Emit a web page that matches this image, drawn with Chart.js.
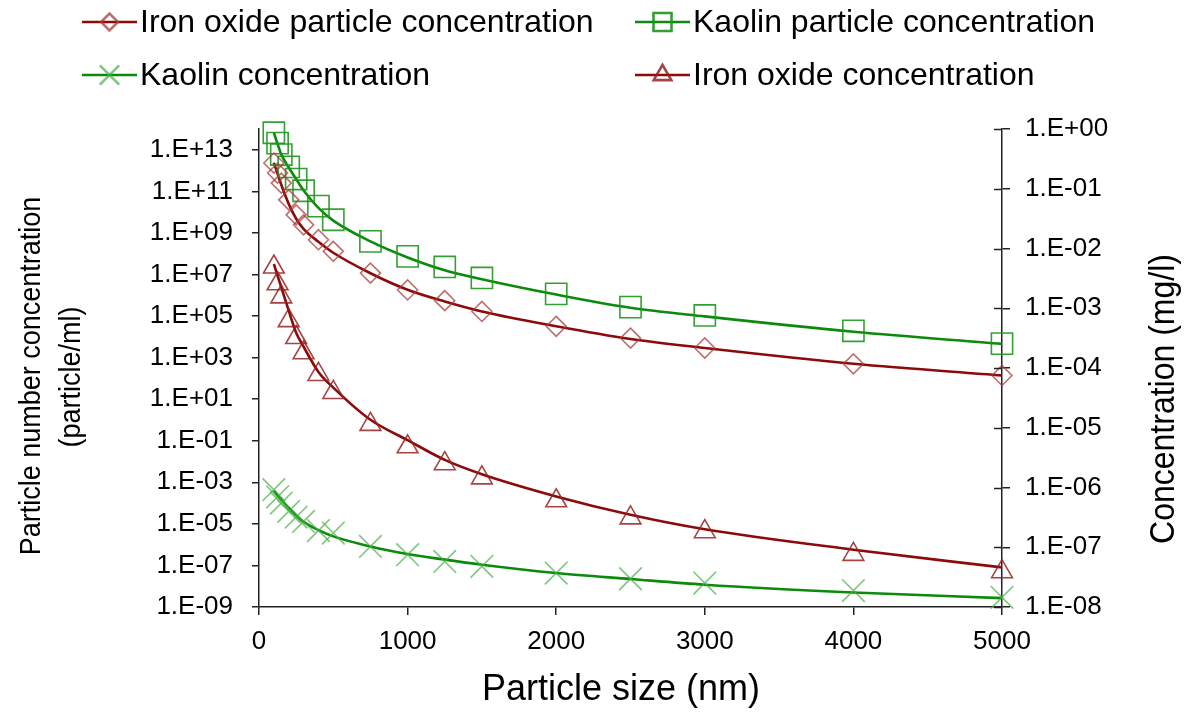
<!DOCTYPE html>
<html>
<head>
<meta charset="utf-8">
<script src="https://cdn.jsdelivr.net/npm/chart.js@4.4.1/dist/chart.umd.min.js"></script>
<style>
  html, body { margin: 0; padding: 0; background: #fff; }
  #wrap { width: 1190px; height: 715px; position: relative; }
</style>
</head>
<body>
<div id="wrap"><canvas id="chart"></canvas></div>
<script>
// particle size (nm)
const sizesNm = [100, 125, 150, 200, 250, 300, 400, 500, 750, 1000, 1250, 1500, 2000, 2500, 3000, 4000, 5000];

// particle/ml  (left axis) - markers and fitted curve
const ironParticleMarkers = [2.3e12, 7.6e11, 2.5e11, 3.9e10, 7.4e9, 2.45e9, 4.7e8, 1.3e8, 1.17e7, 1.8e6, 5.5e5, 1.66e5, 3.2e4, 8.7e3, 2.9e3, 500, 138];
const ironParticleCurve   = [2.37e12, 7.0e11, 2.07e11, 2.5e10, 4.8e9, 1.58e9, 3.75e8, 1.11e8, 1.15e7, 1.84e6, 5.0e5, 1.66e5, 3.2e4, 7.8e3, 2.9e3, 507, 139];
const kaolinParticleMarkers = [6.6e13, 2.1e13, 5.9e12, 1.5e12, 3.9e11, 1.07e11, 1.95e10, 4.3e9, 3.9e8, 7.4e7, 2.3e7, 6.8e6, 1.17e6, 2.7e5, 1.07e5, 1.95e4, 4.7e3];
const kaolinParticleCurve   = [6.6e13, 1.9e13, 6.0e12, 1.4e12, 3.9e11, 1.1e11, 1.6e10, 3.9e9, 3.9e8, 6.6e7, 1.6e7, 5.9e6, 1.08e6, 2.5e5, 9.6e4, 1.75e4, 4.6e3];

// mg/l (right axis) - markers and fitted curve
const kaolinConcMarkers = [9.2e-7, 7.0e-7, 5.5e-7, 4.0e-7, 3.2e-7, 2.7e-7, 1.9e-7, 1.73e-7, 1.03e-7, 7.5e-8, 5.8e-8, 4.8e-8, 3.7e-8, 2.97e-8, 2.52e-8, 1.88e-8, 1.45e-8];
const kaolinConcCurve   = [8.9e-7, 7.3e-7, 6.2e-7, 4.6e-7, 3.4e-7, 2.67e-7, 1.93e-7, 1.52e-7, 1.03e-7, 7.7e-8, 6.2e-8, 5.1e-8, 3.7e-8, 2.94e-8, 2.36e-8, 1.75e-8, 1.41e-8];
const ironConcMarkers = [4.9e-3, 2.57e-3, 1.55e-3, 6.2e-4, 3.24e-4, 1.8e-4, 7.8e-5, 3.9e-5, 1.14e-5, 4.8e-6, 2.5e-6, 1.45e-6, 6.0e-7, 3.1e-7, 1.82e-7, 7.6e-8, 3.9e-8];
const ironConcCurve   = [5.5e-3, 3.5e-3, 2.24e-3, 9.1e-4, 3.9e-4, 2.27e-4, 8.6e-5, 4.7e-5, 1.36e-5, 6.2e-6, 2.9e-6, 1.67e-6, 7.1e-7, 3.5e-7, 2.0e-7, 9.1e-8, 4.6e-8];

const xTickLabels = ['0', '1000', '2000', '3000', '4000', '5000'];
const leftTickLabels = ['1.E-09', '1.E-07', '1.E-05', '1.E-03', '1.E-01', '1.E+01', '1.E+03', '1.E+05', '1.E+07', '1.E+09', '1.E+11', '1.E+13'];
const rightTickLabels = ['1.E-08', '1.E-07', '1.E-06', '1.E-05', '1.E-04', '1.E-03', '1.E-02', '1.E-01', '1.E+00'];

const seriesNames = ['Iron oxide particle concentration', 'Kaolin particle concentration', 'Kaolin concentration', 'Iron oxide concentration'];

const FONT = '"Liberation Sans", Arial, sans-serif';
const RED = '#8c0a0a';
const GREEN = '#0b8a0b';

function pts(vals) {
    return sizesNm.map((x, i) => ({ x: x, y: vals[i] }));
}

function fmtExp(v) {
    const e = Math.round(Math.log10(v));
    return '1.E' + (e < 0 ? '-' : '+') + String(Math.abs(e)).padStart(2, '0');
}

// marker styles, reused by the legend
const markerStyles = [
    { pointStyle: 'rectRot', radius: 10, color: 'rgba(170,60,60,0.75)' },
    { pointStyle: 'rect', radius: 15, color: 'rgba(30,150,30,0.9)' },
    { pointStyle: 'crossRot', radius: 16, color: 'rgba(70,175,70,0.7)' },
    { pointStyle: 'triangle', radius: 12, color: 'rgba(150,35,35,0.85)' }
];
const lineColors = [RED, GREEN, GREEN, RED];

function markerSet(vals, idx, axis) {
    const m = markerStyles[idx];
    return {
        label: seriesNames[idx],
        data: pts(vals),
        yAxisID: axis,
        showLine: false,
        pointStyle: m.pointStyle,
        pointRadius: m.radius,
        pointBorderColor: m.color,
        pointBackgroundColor: 'rgba(0,0,0,0)',
        pointBorderWidth: 1.6,
        clip: false
    };
}

function curveSet(vals, idx, axis) {
    return {
        label: seriesNames[idx] + ' curve',
        data: pts(vals),
        yAxisID: axis,
        showLine: true,
        borderColor: lineColors[idx],
        borderWidth: 2.6,
        pointRadius: 0,
        cubicInterpolationMode: 'monotone',
        fill: false
    };
}

// rotated title, slightly taller glyphs like the original
function vText(ctx, text, x, y) {
    ctx.save();
    ctx.translate(x, y);
    ctx.rotate(-Math.PI / 2);
    ctx.scale(1, 1.1);
    ctx.fillText(text, 0, 0);
    ctx.restore();
}

const overlay = {
    id: 'overlay',
    afterDraw(chart) {
        const ctx = chart.ctx;
        const area = chart.chartArea;
        const y2 = chart.scales.y2;
        ctx.save();

        // inner half of the right axis ticks
        ctx.strokeStyle = '#222';
        ctx.lineWidth = 1.5;
        y2.ticks.forEach(t => {
            const py = Math.round(y2.getPixelForValue(t.value)) + 0.5;
            ctx.beginPath();
            ctx.moveTo(area.right - 8, py);
            ctx.lineTo(area.right, py);
            ctx.stroke();
        });

        // axis titles
        ctx.fillStyle = '#000';
        ctx.textAlign = 'center';
        ctx.textBaseline = 'middle';
        ctx.font = '36px ' + FONT;
        ctx.fillText('Particle size (nm)', 621, 690);

        ctx.font = '27px ' + FONT;
        vText(ctx, 'Particle number concentration', 32, 376);
        vText(ctx, '(particle/ml)', 72, 377);

        ctx.font = '32px ' + FONT;
        vText(ctx, 'Concentration (mg/l)', 1164, 399);

        // legend
        const slots = [
            { x1: 82, x2: 137, y: 22 },
            { x1: 635, x2: 690, y: 22 },
            { x1: 82, x2: 137, y: 75 },
            { x1: 635, x2: 690, y: 75 }
        ];
        ctx.font = '32px ' + FONT;
        ctx.textAlign = 'left';
        slots.forEach((s, i) => {
            ctx.strokeStyle = lineColors[i];
            ctx.lineWidth = 2.6;
            ctx.beginPath();
            ctx.moveTo(s.x1, s.y);
            ctx.lineTo(s.x2, s.y);
            ctx.stroke();
            const m = markerStyles[i];
            ctx.strokeStyle = m.color;
            ctx.fillStyle = 'rgba(0,0,0,0)';
            Chart.helpers.drawPoint(ctx, {
                pointStyle: m.pointStyle,
                radius: m.radius * 0.85,
                rotation: 0,
                borderWidth: 1.6
            }, (s.x1 + s.x2) / 2, s.y);
            ctx.fillStyle = '#000';
            ctx.fillText(seriesNames[i], s.x2 + 3, s.y + 1);
        });
        ctx.restore();
    }
};

const tickFont = { family: FONT, size: 26 };
const axisGrid = { drawOnChartArea: false, drawTicks: true, color: '#222', lineWidth: 1.5 };
const axisBorder = { display: true, color: '#222', width: 1.5 };

new Chart(document.getElementById('chart'), {
    type: 'scatter',
    data: {
        datasets: [
            markerSet(ironParticleMarkers, 0, 'y'),
            markerSet(kaolinParticleMarkers, 1, 'y'),
            markerSet(kaolinConcMarkers, 2, 'y2'),
            markerSet(ironConcMarkers, 3, 'y2'),
            curveSet(ironParticleCurve, 0, 'y'),
            curveSet(kaolinParticleCurve, 1, 'y'),
            curveSet(kaolinConcCurve, 2, 'y2'),
            curveSet(ironConcCurve, 3, 'y2')
        ]
    },
    options: {
        responsive: true,
        maintainAspectRatio: false,
        animation: false,
        events: [],
        layout: { padding: { top: 129, left: 0, right: 0, bottom: 0 } },
        plugins: {
            legend: { display: false },
            tooltip: { enabled: false }
        },
        scales: {
            x: {
                type: 'linear',
                min: 0,
                max: 5000,
                afterBuildTicks: s => { s.ticks = xTickLabels.map(l => ({ value: Number(l) })); },
                afterFit: s => { s.height = 108; },
                grid: { ...axisGrid, tickLength: 8 },
                border: axisBorder,
                ticks: { font: tickFont, color: '#000', padding: 11, maxRotation: 0, autoSkip: false, callback: v => String(v) }
            },
            y: {
                type: 'logarithmic',
                position: 'left',
                min: 1e-9,
                max: 1e14,
                afterBuildTicks: s => { s.ticks = leftTickLabels.map(l => ({ value: Number(l) })); },
                afterFit: s => { s.width = 259; },
                grid: { ...axisGrid, tickLength: 7 },
                border: axisBorder,
                ticks: { font: tickFont, color: '#000', padding: 19, autoSkip: false, callback: v => fmtExp(v) }
            },
            y2: {
                type: 'logarithmic',
                position: 'right',
                min: 1e-8,
                max: 1,
                afterBuildTicks: s => { s.ticks = rightTickLabels.map(l => ({ value: Number(l) })); },
                afterFit: s => { s.width = 188; },
                grid: { ...axisGrid, tickLength: 8 },
                border: axisBorder,
                ticks: { font: tickFont, color: '#000', padding: 15, autoSkip: false, callback: v => fmtExp(v) }
            }
        }
    },
    plugins: [overlay]
});
</script>
</body>
</html>
